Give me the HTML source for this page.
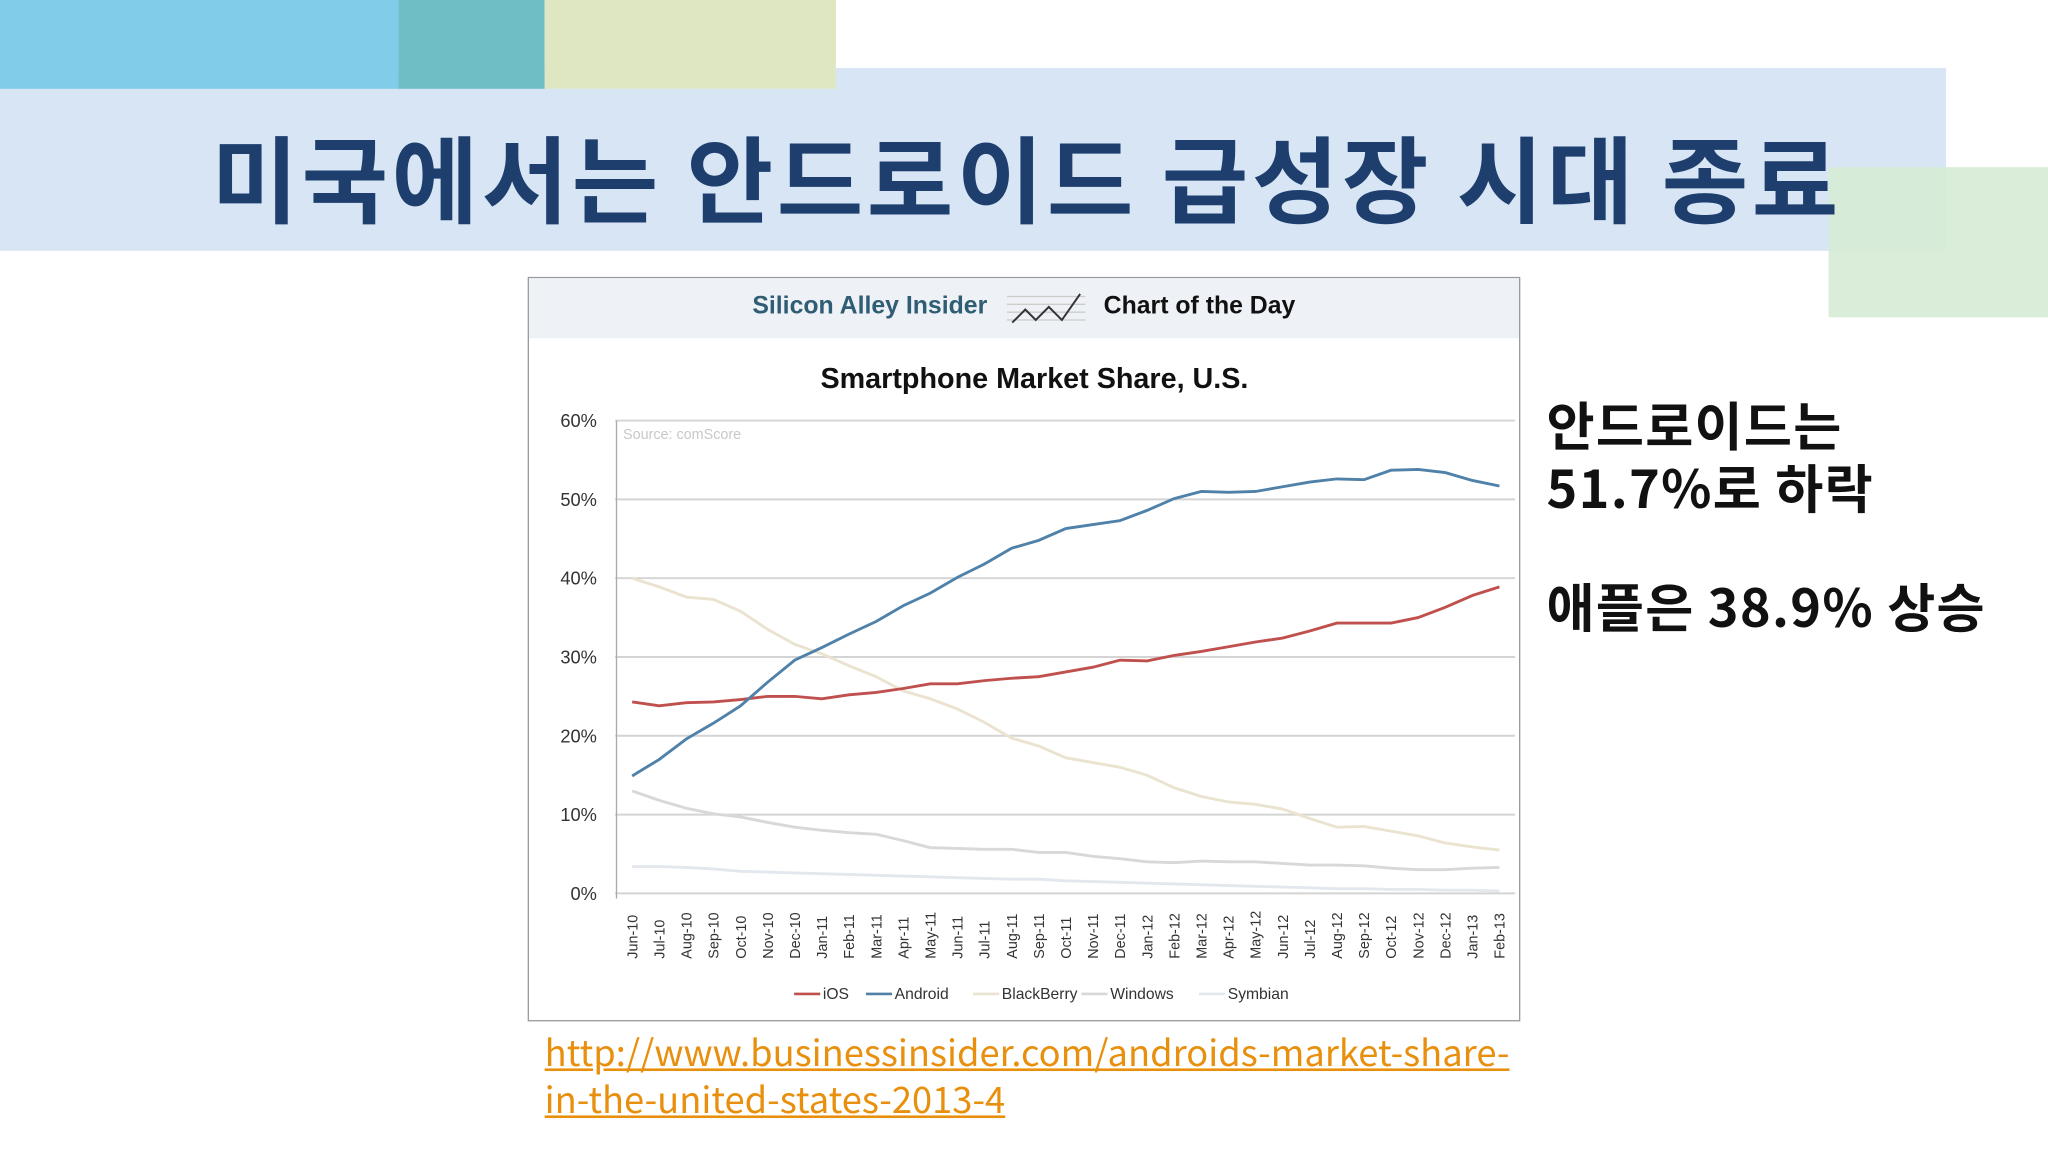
<!DOCTYPE html>
<html><head><meta charset="utf-8">
<style>
html,body{margin:0;padding:0;background:#fff;overflow:hidden;width:2048px;height:1152px}
#stage{position:absolute;left:0;top:0;width:1568px;height:882px;transform:scale(1.306122);transform-origin:0 0;font-family:"Liberation Sans","Noto Sans CJK KR",sans-serif}
.abs{position:absolute}
</style></head><body>
<div id="stage">
  <div class="abs" style="left:0;top:52px;width:1490px;height:140px;background:#d7e5f4"></div>
  <div class="abs" style="left:0;top:0;width:305px;height:68px;background:#80cdea"></div>
  <div class="abs" style="left:305px;top:0;width:112px;height:68px;background:#6fbec6"></div>
  <div class="abs" style="left:417px;top:0;width:223px;height:68px;background:#dfe7c2"></div>
  <div class="abs" style="left:1400px;top:128px;width:168px;height:115px;background:#d6ebd5;opacity:.9"></div>
  <div class="abs" style="left:162px;top:90px;font-size:72px;font-weight:bold;color:#1e3f6e;white-space:nowrap;letter-spacing:2.7px;font-family:'Noto Sans CJK KR',sans-serif;line-height:88px">미국에서는 안드로이드 급성장 시대 종료</div>

  <div class="abs" style="left:404px;top:212px;width:758px;height:568px;border:1px solid #999;background:#fff">
    <div class="abs" style="left:0;top:0;width:758px;height:46px;background:#eef1f5">
      <span class="abs" style="left:171px;top:11px;font-size:19px;font-weight:bold;color:#2f5d73;white-space:nowrap">Silicon Alley Insider</span>
      <svg class="abs" style="left:366px;top:8px" width="62" height="30"><g stroke="#ccc"><line x1="0" y1="6" x2="60" y2="6"/><line x1="0" y1="12" x2="60" y2="12"/><line x1="0" y1="18" x2="60" y2="18"/><line x1="0" y1="24" x2="60" y2="24"/></g><polyline points="4,26 14,16 22,24 32,14 42,24 56,4" fill="none" stroke="#333" stroke-width="1.5"/></svg>
      <span class="abs" style="left:440px;top:11px;font-size:19px;font-weight:bold;color:#111;white-space:nowrap">Chart of the Day</span>
    </div>
    <div class="abs" style="left:0;top:64px;width:774px;text-align:center;font-size:22px;font-weight:bold;color:#111">Smartphone Market Share, U.S.</div>
  </div>
  <svg id="chart" class="abs" style="left:405px;top:213px" width="758" height="568"></svg>

  <div class="abs" style="left:1184px;top:300px;font-size:40px;font-weight:bold;color:#111;line-height:48px;letter-spacing:1px;font-family:'Noto Sans CJK KR',sans-serif">안드로이드는<br>51.7%로 하락</div>
  <div class="abs" style="left:1184px;top:439px;font-size:40px;font-weight:bold;color:#111;line-height:48px;letter-spacing:1px;font-family:'Noto Sans CJK KR',sans-serif">애플은 38.9% 상승</div>

  <a class="abs" style="left:417px;top:787px;font-size:27.8px;color:#e8900e;text-decoration:underline;line-height:36px;font-family:'Noto Sans CJK KR',sans-serif">http://www.businessinsider.com/androids-market-share-<br>in-the-united-states-2013-4</a>
</div>
<script>
const categories=["Jun-10","Jul-10","Aug-10","Sep-10","Oct-10","Nov-10","Dec-10","Jan-11","Feb-11","Mar-11","Apr-11","May-11","Jun-11","Jul-11","Aug-11","Sep-11","Oct-11","Nov-11","Dec-11","Jan-12","Feb-12","Mar-12","Apr-12","May-12","Jun-12","Jul-12","Aug-12","Sep-12","Oct-12","Nov-12","Dec-12","Jan-13","Feb-13"];
const iosValues=[24.3,23.8,24.2,24.3,24.6,25.0,25.0,24.7,25.2,25.5,26.0,26.6,26.6,27.0,27.3,27.5,28.1,28.7,29.6,29.5,30.2,30.7,31.3,31.9,32.4,33.3,34.3,34.3,34.3,35.0,36.3,37.8,38.9];
const androidValues=[14.9,17.0,19.6,21.6,23.8,26.8,29.6,31.2,32.9,34.5,36.5,38.1,40.1,41.8,43.8,44.8,46.3,46.8,47.3,48.6,50.1,51.0,50.9,51.0,51.6,52.2,52.6,52.5,53.7,53.8,53.4,52.4,51.7];
const blackberryValues=[40.0,38.9,37.6,37.3,35.8,33.5,31.6,30.4,28.9,27.5,25.7,24.7,23.4,21.7,19.7,18.7,17.2,16.6,16.0,15.0,13.4,12.3,11.6,11.3,10.7,9.5,8.4,8.5,7.9,7.3,6.4,5.9,5.5];
const windowsValues=[13.0,11.8,10.8,10.1,9.7,9.0,8.4,8.0,7.7,7.5,6.7,5.8,5.7,5.6,5.6,5.2,5.2,4.7,4.4,4.0,3.9,4.1,4.0,4.0,3.8,3.6,3.6,3.5,3.2,3.0,3.0,3.2,3.3];
const symbianValues=[3.4,3.4,3.3,3.1,2.8,2.7,2.6,2.5,2.4,2.3,2.2,2.1,2.0,1.9,1.8,1.8,1.6,1.5,1.4,1.3,1.2,1.1,1.0,0.9,0.8,0.7,0.6,0.6,0.5,0.5,0.4,0.4,0.3];
const yTicks=[0,10,20,30,40,50,60];
const legendLabels=["iOS","Android","BlackBerry","Windows","Symbian"];

const svg=document.getElementById('chart');
const NS='http://www.w3.org/2000/svg';
const X0=79,X1=743,Y0=471,Y1=109;
const xs=i=>X0+(X1-X0)*i/(categories.length-1);
const ys=v=>Y0-(Y0-Y1)*v/60;
function mk(t,a){const e=document.createElementNS(NS,t);for(const k in a)e.setAttribute(k,a[k]);svg.appendChild(e);return e;}
yTicks.forEach(t=>{
  const g=mk('line',{x1:66,x2:755,y1:ys(t),y2:ys(t),stroke:'#d4d4d4','stroke-width':1.5});
  
  
  const l=mk('text',{x:52,y:ys(t)+5,'text-anchor':'end','font-size':14,fill:'#333','font-family':'Liberation Sans,sans-serif'});
  l.textContent=t+'%';
  
  
});
const ax=mk('line',{x1:67,x2:67,y1:Y1,y2:Y0+4,stroke:'#aaa'});


const src=mk('text',{x:72,y:Y1+14,'font-size':11,fill:'#c8c8c8','font-family':'Liberation Sans,sans-serif'});
src.textContent='Source: comScore';


categories.forEach((c,i)=>{
  const t=mk('text',{transform:`translate(${xs(i)+4},${Y0+50}) rotate(-90)`,'font-size':11,fill:'#333','font-family':'Liberation Sans,sans-serif'});
  t.textContent=c;
  
  
});
const series=[[symbianValues,'#e3e8ee','symbian'],[windowsValues,'#d8d8da','windows'],[blackberryValues,'#eae3cf','blackberry'],[iosValues,'#c0504d','ios'],[androidValues,'#4f81a9','android']];
series.forEach(s=>{
  const p=mk('polyline',{points:s[0].map((v,i)=>xs(i)+','+ys(v)).join(' '),fill:'none',stroke:s[1],'stroke-width':2.2});
  
  
});
const legCols=['#c0504d','#4f81a9','#333','#d8d8da','#e3e8ee'];
const legX=[203,258,340,423,513];
legendLabels.forEach((l,i)=>{
  const ln=mk('line',{x1:legX[i],x2:legX[i]+20,y1:548,y2:548,stroke:i==2?'#eae3cf':legCols[i],'stroke-width':2});
  
  
  const t=mk('text',{x:legX[i]+22,y:552,'font-size':12,fill:'#333','font-family':'Liberation Sans,sans-serif'});
  t.textContent=l;
  
  
});
</script>
</body></html>
